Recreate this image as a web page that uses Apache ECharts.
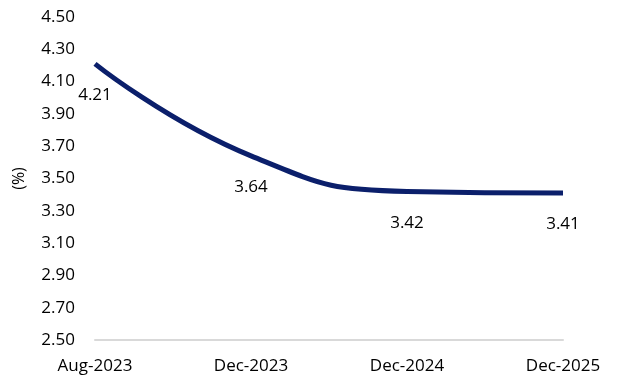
<!DOCTYPE html>
<html><head><meta charset="utf-8">
<script src="https://cdn.jsdelivr.net/npm/echarts@6/dist/echarts.min.js"></script>
<style>html,body{margin:0;padding:0;background:#fff}#c{width:619px;height:388px}</style>
</head><body><div id="c"></div>
<script>
const categories = ['Aug-2023', 'Dec-2023', 'Dec-2024', 'Dec-2025'];
const values = [4.21, 3.64, 3.42, 3.41];
const yMin = 2.5, yMax = 4.5, yStep = 0.2;
const chart = echarts.init(document.getElementById('c'));
const font = 'Open Sans';
chart.setOption({
  animation: false,
  grid: { left: 95, right: 56, top: 17, bottom: 48 },
  xAxis: {
    type: 'category', data: categories, boundaryGap: false,
    axisLine: { lineStyle: { color: '#d9d9d9', width: 2 } },
    axisTick: { show: false },
    axisLabel: { color: '#000', fontFamily: font, fontSize: 17, margin: 18 }
  },
  yAxis: {
    type: 'value', min: yMin, max: yMax, interval: yStep,
    name: '(%)', nameLocation: 'middle', nameGap: 68, nameRotate: 90,
    nameTextStyle: { color: '#000', fontFamily: font, fontSize: 16 },
    splitLine: { show: false }, axisLine: { show: false }, axisTick: { show: false },
    axisLabel: { color: '#000', fontFamily: font, fontSize: 17, margin: 20, formatter: v => v.toFixed(2) }
  },
  series: [{
    type: 'line', data: values, smooth: true,
    symbol: 'circle', symbolSize: 2, showSymbol: true,
    itemStyle: { color: 'rgba(0,0,0,0)', borderWidth: 0 },
    lineStyle: { color: '#0b1f6b', width: 5 },
    label: { show: true, position: 'bottom', distance: 22, color: '#000', fontFamily: font, fontSize: 17, formatter: p => p.value.toFixed(2) }
  }]
});
</script></body></html>
